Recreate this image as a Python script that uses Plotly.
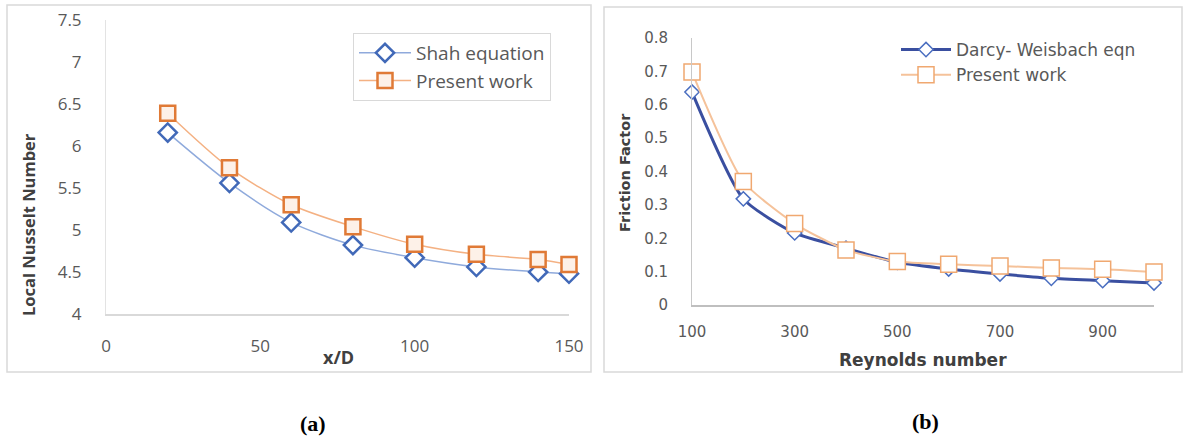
import plotly.graph_objects as go

W, H = 1183, 438

# ---- data (a) ----
x_over_d = [20, 40, 60, 80, 100, 120, 140, 150]
shah_eq = [6.16, 5.56, 5.09, 4.82, 4.67, 4.56, 4.50, 4.48]
present_a = [6.39, 5.74, 5.30, 5.04, 4.83, 4.71, 4.65, 4.59]

# ---- data (b) ----
reynolds = [100, 200, 300, 400, 500, 600, 700, 800, 900, 1000]
darcy = [0.638, 0.318, 0.216, 0.170, 0.128, 0.108, 0.093, 0.080, 0.073, 0.066]
present_b = [0.698, 0.370, 0.244, 0.165, 0.130, 0.122, 0.117, 0.111, 0.107, 0.099]


def px(x):
    return x / W


def py(y):
    return 1 - y / H


fig = go.Figure()

fig.add_trace(go.Scatter(
    x=x_over_d, y=shah_eq, name="Shah equation", mode="lines+markers",
    line=dict(color="#8FAADC", width=1.5, shape="spline", smoothing=0.8),
    marker=dict(symbol="diamond", size=14, color="white",
                line=dict(color="#4169B8", width=2.5)),
    cliponaxis=False, xaxis="x", yaxis="y", legend="legend"))
fig.add_trace(go.Scatter(
    x=x_over_d, y=present_a, name="Present work", mode="lines+markers",
    line=dict(color="#F4B183", width=1.5, shape="spline", smoothing=0.8),
    marker=dict(symbol="square", size=15, color="#FDF1E8",
                line=dict(color="#E07A36", width=2.5)),
    cliponaxis=False, xaxis="x", yaxis="y", legend="legend"))

fig.add_trace(go.Scatter(
    x=reynolds, y=darcy, name="Darcy- Weisbach eqn", mode="lines+markers",
    line=dict(color="#3A4FA0", width=3, shape="spline", smoothing=0.6),
    marker=dict(symbol="diamond", size=11, color="white",
                line=dict(color="#4A6EC0", width=1.5)),
    cliponaxis=False, xaxis="x2", yaxis="y2", legend="legend2"))
fig.add_trace(go.Scatter(
    x=reynolds, y=present_b, name="Present work", mode="lines+markers",
    line=dict(color="#F5C29A", width=2, shape="spline", smoothing=0.6),
    marker=dict(symbol="square", size=16, color="white",
                line=dict(color="#F0A870", width=1.5)),
    cliponaxis=False, xaxis="x2", yaxis="y2", legend="legend2"))

tick_font_a = dict(family="Open Sans", size=17, color="#595959")
tick_font_b = dict(family="DejaVu Sans", size=15, color="#595959")

fig.update_layout(
    width=W, height=H,
    margin=dict(l=0, r=0, t=0, b=0, autoexpand=False),
    paper_bgcolor="white", plot_bgcolor="white",
    showlegend=True,
    xaxis=dict(domain=[px(106), px(569)], range=[0, 150], tick0=0, dtick=50,
               showgrid=False, zeroline=False, showline=True, linecolor="#D9D9D9",
               linewidth=1.5, ticks="", tickfont=tick_font_a, ticklabelstandoff=16,
               anchor="y", automargin=False),
    yaxis=dict(domain=[py(314), py(20)], range=[4, 7.5], tick0=4, dtick=0.5,
               showgrid=False, zeroline=False, showline=True, linecolor="#E3E3E3",
               linewidth=1, ticks="", tickfont=tick_font_a, ticklabelstandoff=20,
               anchor="x", automargin=False),
    xaxis2=dict(domain=[px(692), px(1154)], range=[100, 1000], tick0=100, dtick=200,
                showgrid=False, zeroline=False, showline=True, linecolor="#BFBFBF",
                linewidth=1.5, ticks="", tickfont=tick_font_b, ticklabelstandoff=12,
                anchor="y2", automargin=False),
    yaxis2=dict(domain=[py(305), py(38)], range=[0, 0.8], tick0=0, dtick=0.1,
                showgrid=False, zeroline=False, showline=True, linecolor="#C8C8C8",
                linewidth=1, ticks="", tickfont=tick_font_b, ticklabelstandoff=20,
                anchor="x2", automargin=False),
    legend=dict(x=px(353), y=py(33), xanchor="left", yanchor="top",
                bgcolor="white", bordercolor="#D9D9D9", borderwidth=1,
                font=dict(family="Open Sans", size=19, color="#595959"),
                itemwidth=52, tracegroupgap=0),
    legend2=dict(x=px(896), y=py(32), xanchor="left", yanchor="top",
                 bgcolor="rgba(255,255,255,0)", borderwidth=0,
                 font=dict(family="DejaVu Sans", size=17, color="#595959"),
                 itemwidth=50, tracegroupgap=0),
)

annotations = [
    dict(text="<b>Local Nusselt Number</b>", x=px(28), y=py(225), textangle=-90,
         font=dict(family="Open Sans", size=16.5, color="#404040")),
    dict(text="<b>x/D</b>", x=px(338), y=py(357),
         font=dict(family="Open Sans", size=18, color="#404040")),
    dict(text="<b>Friction Factor</b>", x=px(625), y=py(173), textangle=-90,
         font=dict(family="DejaVu Sans", size=14.5, color="#404040")),
    dict(text="<b>Reynolds number</b>", x=px(923), y=py(360),
         font=dict(family="DejaVu Sans", size=17, color="#404040")),
    dict(text="<b>(a)</b>", x=px(313), y=py(423),
         font=dict(family="Liberation Serif", size=22, color="black")),
    dict(text="<b>(b)</b>", x=px(925), y=py(421),
         font=dict(family="Liberation Serif", size=22, color="black")),
]
for a in annotations:
    a.update(xref="paper", yref="paper", showarrow=False, xanchor="center", yanchor="middle")
fig.update_layout(annotations=annotations)

shapes = [
    dict(type="rect", xref="paper", yref="paper", x0=px(7), x1=px(591), y0=py(372), y1=py(5),
         line=dict(color="#D9D9D9", width=1.5), layer="below"),
    dict(type="rect", xref="paper", yref="paper", x0=px(604), x1=px(1182), y0=py(372), y1=py(7),
         line=dict(color="#D9D9D9", width=1.5), layer="below"),
]
fig.update_layout(shapes=shapes)

fig.write_html("out.html")
